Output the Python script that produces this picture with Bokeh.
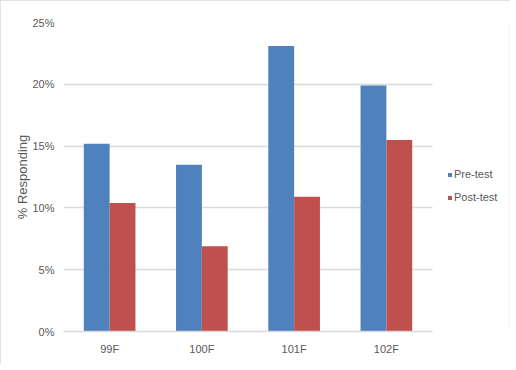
from bokeh.plotting import figure
from bokeh.models import (Range1d, NumeralTickFormatter, Legend, LegendItem,
                          FixedTicker, ColumnDataSource)
from bokeh.transform import dodge
from bokeh.embed import file_html
from bokeh.resources import INLINE

categories = ["99F", "100F", "101F", "102F"]
pre_test = [0.152, 0.135, 0.231, 0.199]
post_test = [0.104, 0.069, 0.109, 0.155]
y_ticks = [0, 0.05, 0.10, 0.15, 0.20, 0.25]
series_names = ["Pre-test", "Post-test"]

BLUE = "#4F81BD"
RED = "#C0504D"
GRID = "#D9D9D9"
TEXT = "#595959"
FONT = "Liberation Sans Narrow, Liberation Sans, sans-serif"

n = len(categories)
slot = [i + 0.5 for i in range(n)]          # category centres on the x scale
source = ColumnDataSource(dict(x=slot, cat=categories, pre=pre_test, post=post_test))

# plot area spans bars (369 px) plus legend space (77 px)
p = figure(x_range=Range1d(0, n * 446 / 369), y_range=(0, 0.25),
           width=510, height=364, output_backend="svg", toolbar_location=None,
           min_border_left=63, min_border_right=1, min_border_top=22,
           min_border_bottom=33)
p.outline_line_color = None
p.background_fill_color = "white"
p.border_fill_color = "white"
p.styles = {"outline": "1px solid #D9D9D9", "outline-offset": "-1px"}

r1 = p.vbar(x=dodge("x", -0.14), top="pre", width=0.28,
            source=source, fill_color=BLUE, line_color=None)
r2 = p.vbar(x=dodge("x", 0.14), top="post", width=0.28,
            source=source, fill_color=RED, line_color=None)

# grid
p.xgrid.grid_line_color = None
p.ygrid.grid_line_color = GRID
p.ygrid.grid_line_width = 1.5
p.ygrid.level = "underlay"
if "cross_bounds" in p.ygrid[0].properties():
    p.ygrid.cross_bounds = (0, n)

# y axis
p.yaxis.ticker = FixedTicker(ticks=y_ticks)
p.yaxis.formatter = NumeralTickFormatter(format="0%")
p.yaxis.major_tick_in = 0
p.yaxis.major_tick_out = 0
p.yaxis.minor_tick_in = 0
p.yaxis.minor_tick_out = 0
p.yaxis.axis_line_color = None
p.yaxis.major_label_standoff = 9
p.yaxis.major_label_text_font = FONT
p.yaxis.major_label_text_font_size = "11px"
p.yaxis.major_label_text_color = TEXT
p.yaxis.axis_label = "% Responding"
p.yaxis.axis_label_text_font = "Liberation Sans, sans-serif"
p.yaxis.axis_label_text_font_size = "13px"
p.yaxis.axis_label_text_font_style = "normal"
p.yaxis.axis_label_text_color = TEXT
p.yaxis.axis_label_standoff = -1

# x axis (categorical labels at slot centres)
p.xaxis.ticker = FixedTicker(ticks=slot)
p.xaxis.major_label_overrides = {s: c for s, c in zip(slot, categories)}
p.xaxis.bounds = (0, n)
p.xaxis.axis_line_color = GRID
p.xaxis.axis_line_width = 1.5
p.xaxis.major_tick_in = 0
p.xaxis.major_tick_out = 0
p.xaxis.minor_tick_in = 0
p.xaxis.minor_tick_out = 0
p.xaxis.major_label_standoff = 11
p.xaxis.major_label_text_font = FONT
p.xaxis.major_label_text_font_size = "11px"
p.xaxis.major_label_text_color = TEXT

legend = Legend(items=[LegendItem(label=series_names[0], renderers=[r1]),
                       LegendItem(label=series_names[1], renderers=[r2])],
                location=(384, 128), orientation="vertical",
                glyph_width=5, glyph_height=5, label_standoff=2,
                label_height=12, spacing=11, padding=0, margin=0,
                border_line_color=None, background_fill_alpha=0,
                label_text_font=FONT, label_text_font_size="11px",
                label_text_color=TEXT)
p.add_layout(legend)

open("out.html", "w").write(file_html(p, INLINE))
